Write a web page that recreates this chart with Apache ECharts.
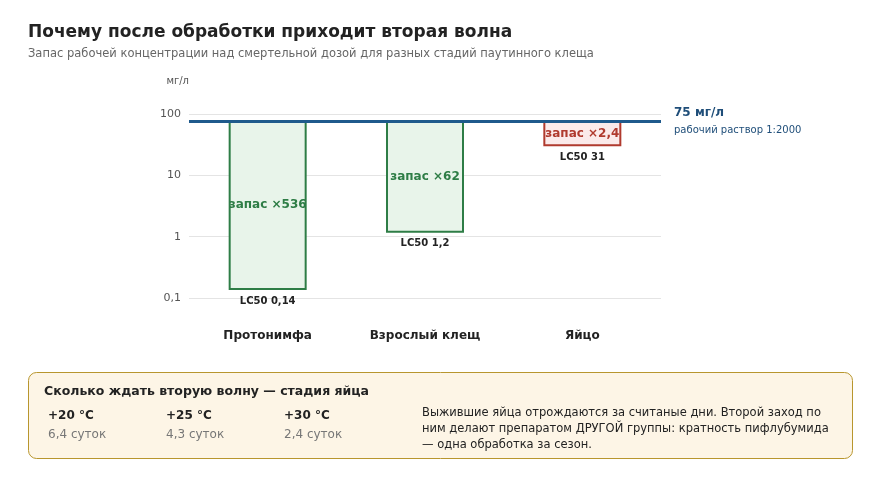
<!DOCTYPE html>
<html><head><meta charset="utf-8">
<script src="https://cdn.jsdelivr.net/npm/echarts@6/dist/echarts.min.js"></script>
<style>html,body{margin:0;background:#fff}#c{width:880px;height:480px}</style>
</head><body><div id="c"></div>
<script>
var stages = ['Протонимфа', 'Взрослый клещ', 'Яйцо'];
var lc50 = [0.14, 1.2, 31];
var lc50Labels = ['LC50 0,14', 'LC50 1,2', 'LC50 31'];
var reserve = ['запас ×536', 'запас ×62', 'запас ×2,4'];
var workDose = 75;
var temps = ['+20 °C', '+25 °C', '+30 °C'];
var days = ['6,4 суток', '4,3 суток', '2,4 суток'];

var chart = echarts.init(document.getElementById('c'));
var F = 'DejaVu Sans';
var green = { stroke: '#2e7d46', fill: '#e8f4ea', text: '#2e7d46' };
var red = { stroke: '#b03a2e', fill: '#fbeaea', text: '#b03a2e' };

var graphics = [
  { type: 'text', left: 28, top: 24, style: { text: 'Почему после обработки приходит вторая волна', font: 'bold 17px ' + F, fill: '#222' } },
  { type: 'text', left: 28, top: 48, style: { text: 'Запас рабочей концентрации над смертельной дозой для разных стадий паутинного клеща', font: '11.5px ' + F, fill: '#666' } },
  { type: 'text', left: 674, top: 107, style: { text: '75 мг/л', font: 'bold 12px ' + F, fill: '#1f4e79' } },
  { type: 'text', left: 674, top: 125, style: { text: 'рабочий раствор 1:2000', font: '10px ' + F, fill: '#1f4e79' } },
  { type: 'rect', shape: { x: 28.5, y: 372.5, width: 824, height: 86, r: 8 }, style: { fill: '#fdf5e6', stroke: '#b8962e', lineWidth: 1 } },
  { type: 'text', left: 44, top: 385, style: { text: 'Сколько ждать вторую волну — стадия яйца', font: 'bold 12.5px ' + F, fill: '#222' } },
  { type: 'text', left: 422, top: 405, style: { text: 'Выжившие яйца отрождаются за считаные дни. Второй заход по\nним делают препаратом ДРУГОЙ группы: кратность пифлубумида\n— одна обработка за сезон.', font: '11.5px ' + F, fill: '#222', lineHeight: 16 } }
];
temps.forEach(function (t, i) {
  graphics.push({ type: 'text', left: 48 + i * 118, top: 410, style: { text: t, font: 'bold 12px ' + F, fill: '#222' } });
  graphics.push({ type: 'text', left: 48 + i * 118, top: 429, style: { text: days[i], font: '12px ' + F, fill: '#777' } });
});

chart.setOption({
  animation: false,
  grid: { left: 189, right: 219, top: 114, bottom: 182 },
  xAxis: {
    type: 'category', data: stages,
    axisLine: { show: false }, axisTick: { show: false },
    axisLabel: { margin: 32, fontFamily: F, fontSize: 12, fontWeight: 'bold', color: '#222' }
  },
  yAxis: {
    type: 'log', logBase: 10, min: 0.1, max: 100,
    name: 'мг/л', nameGap: 28, nameTextStyle: { fontFamily: F, fontSize: 10, color: '#555', align: 'right' },
    axisLine: { show: false }, axisTick: { show: false },
    splitLine: { lineStyle: { color: '#e4e4e4' } },
    axisLabel: { fontFamily: F, fontSize: 11, color: '#555', formatter: function (v) { return String(v).replace('.', ','); } }
  },
  series: [{
    type: 'custom',
    data: lc50.map(function (v, i) { return [i, v]; }),
    renderItem: function (params, api) {
      var i = api.value(0);
      var bot = api.coord([i, api.value(1)]);
      var top = api.coord([i, workDose]);
      var c = i === 2 ? red : green;
      var w = 76;
      return {
        type: 'group', children: [
          { type: 'rect', shape: { x: bot[0] - w / 2, y: top[1], width: w, height: bot[1] - top[1] },
            style: { fill: c.fill, stroke: c.stroke, lineWidth: 2 } },
          { type: 'text', style: { x: bot[0], y: (top[1] + bot[1]) / 2, text: reserve[i], align: 'center', verticalAlign: 'middle',
            font: 'bold 12px ' + F, fill: c.text } },
          { type: 'text', style: { x: bot[0], y: bot[1] + 12, text: lc50Labels[i], align: 'center', verticalAlign: 'middle',
            font: 'bold 10px ' + F, fill: '#222' } }
        ]
      };
    },
    markLine: {
      symbol: 'none', silent: true, label: { show: false },
      lineStyle: { color: '#1f5a8c', width: 3, type: 'solid' },
      data: [{ yAxis: workDose }]
    }
  }],
  graphic: graphics
});
</script></body></html>
